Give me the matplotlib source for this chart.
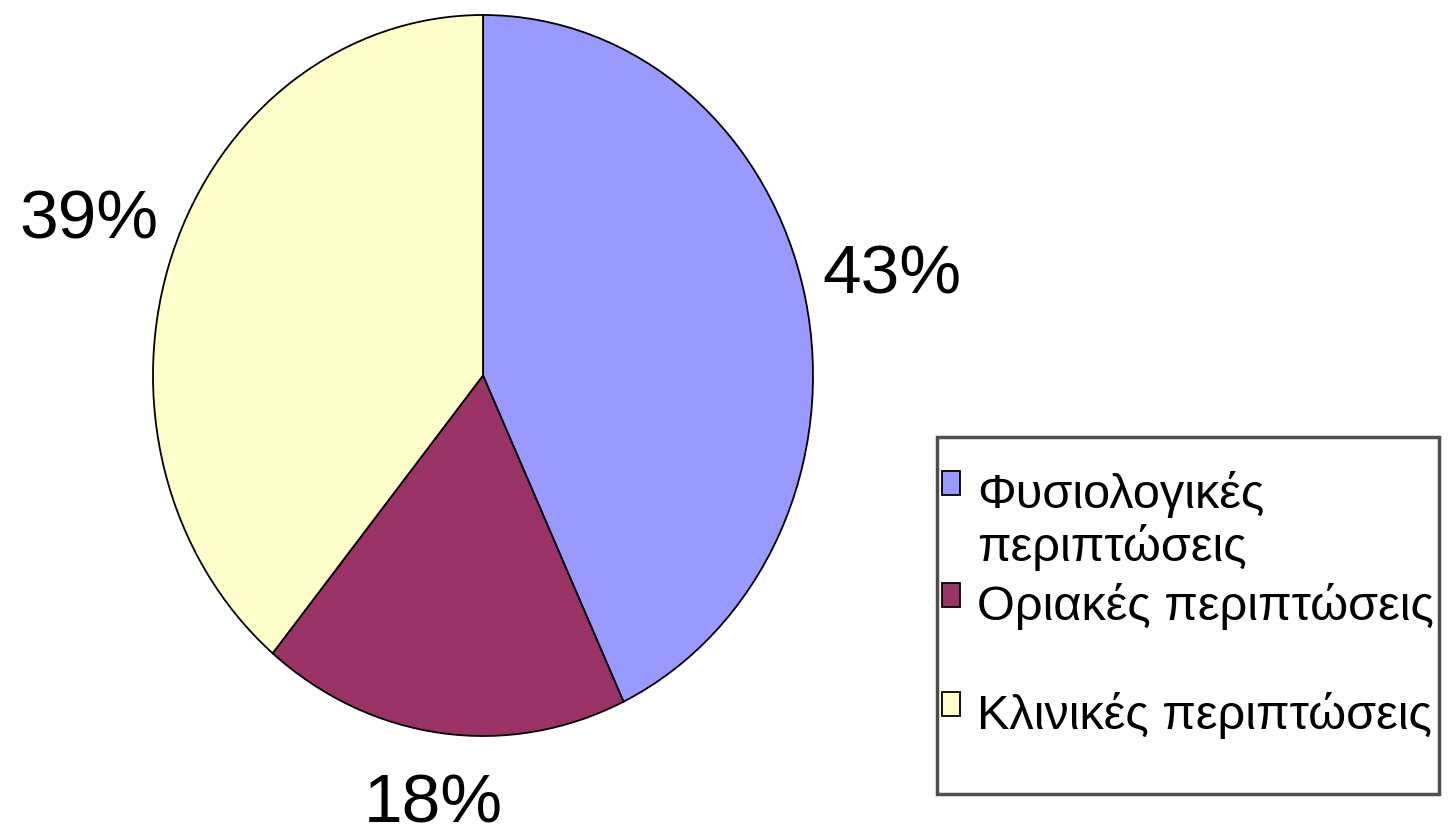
import matplotlib.pyplot as plt

# Data
categories = ['Φυσιολογικές\nπεριπτώσεις', 'Οριακές περιπτώσεις\n', 'Κλινικές περιπτώσεις\n']
values = [43, 18, 39]
colors = ['#9999FF', '#993366', '#FFFFCC']

plt.rcParams['font.family'] = ['Liberation Sans', 'DejaVu Sans']

fig = plt.figure(figsize=(14.52, 8.38), dpi=100)
ax = fig.add_axes([153 / 1452, 1 - 736 / 838, 660 / 1452, 721 / 838])

wedges, texts = ax.pie(values, colors=colors, startangle=90, counterclock=False,
                       radius=1,
                       wedgeprops=dict(edgecolor='black', linewidth=1.3),
                       labels=[f'{v}%' for v in values], labeldistance=1.27,
                       textprops=dict(fontsize=50, color='black'))
for t in texts:
    t.set_horizontalalignment('center')
    t.set_verticalalignment('center')
# bottom label sits a little closer to the pie
x, y = texts[1].get_position()
texts[1].set_position((x * 1.2 / 1.27, y * 1.2 / 1.27))

ax.set_aspect('auto')
ax.set_xlim(-1, 1)
ax.set_ylim(-1, 1)

leg = fig.legend(wedges, categories, loc='upper left',
                 bbox_to_anchor=(937 / 1452, 1 - 437 / 838),
                 fontsize=35, frameon=True, fancybox=False, shadow=False,
                 title=' ', title_fontsize=14,
                 handlelength=0.38, handleheight=0.38, handletextpad=0.34,
                 labelspacing=0.25, borderpad=0.1, borderaxespad=0)
leg.get_frame().set_edgecolor('#222222')
leg.get_frame().set_linewidth(2.5)
for t in leg.get_texts():
    t.set_linespacing(1.15)
# put the marker next to the first line of each label
for col in leg._legend_handle_box.get_children():
    for item in col.get_children():
        item.align = 'top'

fig.savefig('out.png', dpi=100)
